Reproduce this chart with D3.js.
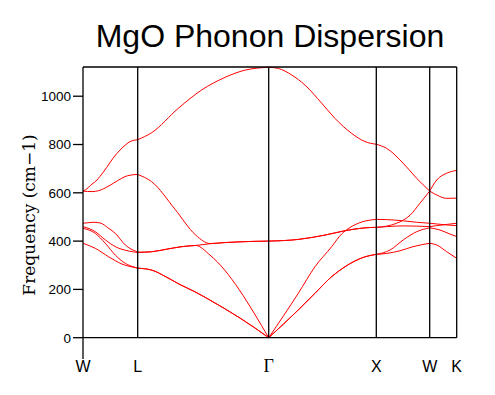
<!DOCTYPE html>
<html>
<head>
<meta charset="utf-8">
<script src="https://cdn.jsdelivr.net/npm/d3@7"></script>
<style>
  body { margin: 0; background: #fff; }
</style>
</head>
<body>
<svg id="chart" width="495" height="395"></svg>
<script>
// high-symmetry points along the path (path distance units)
const symLabels = ["W", "L", "\u0393", "X", "W", "K"];
const symK = [0, 0.547, 1.857, 2.933, 3.467, 3.737];
const yTicks = [0, 200, 400, 600, 800, 1000];

// phonon branches: [k, frequency cm-1]
const band6 = [[0,607],[0.023,612],[0.09,636],[0.14,653],[0.17,668],[0.237,705],[0.303,745],[0.37,777],[0.43,800],[0.47,812],[0.547,820],
  [0.687,849],[0.953,950],[1.187,1026],[1.42,1078],[1.62,1108],[1.857,1120],
  [1.953,1115],[2.087,1088],[2.22,1046],[2.387,971],[2.52,908],[2.687,846],[2.82,812],[2.933,801],
  [3.037,784],[3.203,722],[3.337,660],[3.467,607],[3.537,591],[3.637,577],[3.737,578]];
const band5 = [[0,607],[0.09,605],[0.157,609],[0.257,628],[0.357,653],[0.42,667],[0.47,673],[0.547,676],
  [0.687,646],[0.92,532],[1.127,425],[1.27,390],[1.42,394],[1.57,397],[1.71,399],[1.857,400],
  [2.153,407],[2.42,425],[2.62,443],[2.82,455],[2.933,457],
  [3.037,462],[3.137,474],[3.203,487],[3.27,507],[3.37,557],[3.467,607],[3.537,653],[3.637,681],[3.737,693]];
const band4 = [[0,474],[0.05,476],[0.11,478],[0.173,475],[0.257,453],[0.323,432],[0.423,384],[0.48,367],[0.523,359],[0.547,354],
  [0.687,356],[0.83,366],[0.97,376],[1.127,382],[1.27,389],[1.42,394],[1.57,397],[1.71,399],[1.857,400],
  [2.153,407],[2.42,425],[2.62,443],[2.82,455],[2.933,457],
  [3.037,460],[3.203,463],[3.337,462],[3.467,460],[3.537,464],[3.637,469],[3.737,474]];
const band3 = [[0,460],[0.123,439],[0.223,405],[0.323,377],[0.457,359],[0.547,353],
  [0.687,356],[0.83,366],[0.97,376],[1.127,382],[1.27,342],[1.857,0],
  [2.153,184],[2.32,294],[2.487,377],[2.587,430],[2.63,445],[2.753,474],[2.83,484],[2.933,490],
  [3.037,489],[3.203,484],[3.337,478],[3.467,474],[3.537,471],[3.637,467],[3.737,464]];
const band2 = [[0,453],[0.123,432],[0.223,391],[0.323,342],[0.423,308],[0.523,291],[0.547,288],
  [0.687,280],[0.83,252],[0.97,220],[1.12,190],[1.26,158],[1.41,122],[1.56,84],[1.71,43],[1.857,0],
  [2.153,115],[2.32,184],[2.487,253],[2.62,294],[2.82,335],[2.933,345],
  [3.07,363],[3.203,405],[3.337,439],[3.467,455],[3.57,446],[3.67,429],[3.737,419]];
const band1 = [[0,391],[0.123,370],[0.257,335],[0.39,305],[0.523,290],[0.547,288],
  [0.687,280],[0.83,252],[0.97,220],[1.12,190],[1.26,158],[1.41,122],[1.56,84],[1.71,43],[1.857,0],
  [2.153,115],[2.32,184],[2.487,253],[2.62,294],[2.82,335],[2.933,345],
  [3.037,349],[3.17,360],[3.3,377],[3.467,391],[3.537,384],[3.637,356],[3.737,329]];
const bands = [band1, band2, band3, band4, band5, band6];

const svg = d3.select("#chart");

const x = d3.scaleLinear().domain([0, 3.737]).range([83, 456.7]);
const y = d3.scaleLinear().domain([0, 1121]).range([337.7, 67]);

// title
svg.append("text")
  .attr("x", 270).attr("y", 47)
  .attr("text-anchor", "middle")
  .style("font-family", "Liberation Sans, Arial, sans-serif")
  .style("font-size", "32px")
  .text("MgO Phonon Dispersion");

// y axis label
svg.append("text")
  .attr("transform", "translate(34.5,215) rotate(-90)")
  .attr("text-anchor", "middle")
  .style("font-family", "DejaVu Serif, serif")
  .style("font-size", "17px")
  .text("Frequency (cm\u22121)");

// y ticks
const yAxis = svg.append("g");
yAxis.selectAll("line").data(yTicks).join("line")
  .attr("x1", 73).attr("x2", 83)
  .attr("y1", d => y(d)).attr("y2", d => y(d))
  .attr("stroke", "#000").attr("stroke-width", 1.3);
yAxis.selectAll("text").data(yTicks).join("text")
  .attr("x", 71).attr("y", d => y(d))
  .attr("dy", "0.36em")
  .attr("text-anchor", "end")
  .style("font-family", "Liberation Sans, Arial, sans-serif")
  .style("font-size", "13.5px")
  .text(d => d);

// branches, drawn segment by segment so corners stay sharp at symmetry points
const line = d3.line()
  .x(d => x(d[0]))
  .y(d => y(d[1]))
  .curve(d3.curveMonotoneX);

const pieces = [];
bands.forEach(b => {
  for (let i = 0; i < symK.length - 1; i++) {
    pieces.push(b.filter(d => d[0] >= symK[i] && d[0] <= symK[i + 1]));
  }
});

svg.append("g")
  .selectAll("path")
  .data(pieces)
  .join("path")
    .attr("d", line)
    .attr("fill", "none")
    .attr("stroke", "red")
    .attr("stroke-width", 1);

// frame and symmetry lines
const frame = svg.append("g").attr("stroke", "#000").attr("stroke-width", 1.3);
frame.append("line").attr("x1", x(0)).attr("x2", x(3.737)).attr("y1", y(1121)).attr("y2", y(1121));
frame.append("line").attr("x1", x(0)).attr("x2", x(3.737)).attr("y1", y(0)).attr("y2", y(0));
frame.append("line").attr("x1", x(0)).attr("x2", x(0)).attr("y1", y(1121)).attr("y2", 359);
frame.selectAll(".sym").data(symK.slice(1)).join("line")
  .attr("x1", d => x(d)).attr("x2", d => x(d))
  .attr("y1", y(1121)).attr("y2", y(0));

// x labels
svg.append("g").selectAll("text")
  .data(symLabels)
  .join("text")
    .attr("x", (d, i) => x(symK[i]))
    .attr("y", 372)
    .attr("text-anchor", "middle")
    .style("font-family", d => d === "\u0393" ? "Liberation Serif, serif" : "Liberation Sans, Arial, sans-serif")
    .style("font-size", d => d === "\u0393" ? "18px" : "16px")
    .text(d => d);
</script>
</body>
</html>
